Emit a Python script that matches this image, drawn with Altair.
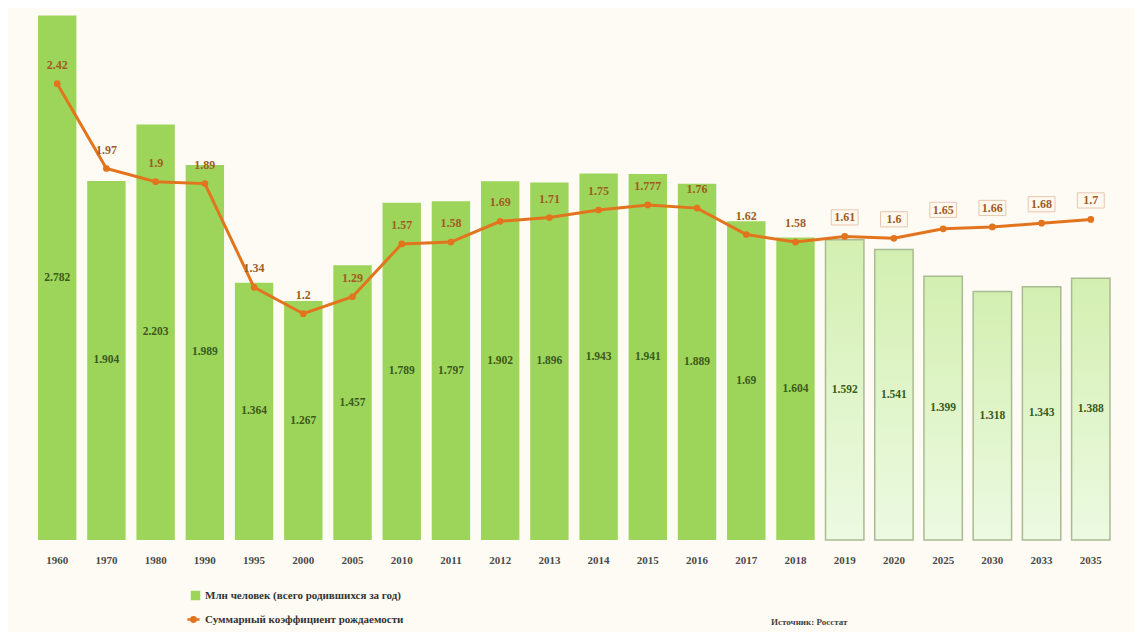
import altair as alt
import pandas as pd

years = ["1960", "1970", "1980", "1990", "1995", "2000", "2005", "2010", "2011",
         "2012", "2013", "2014", "2015", "2016", "2017", "2018", "2019", "2020",
         "2025", "2030", "2033", "2035"]
births = [2.782, 1.904, 2.203, 1.989, 1.364, 1.267, 1.457, 1.789, 1.797, 1.902,
          1.896, 1.943, 1.941, 1.889, 1.69, 1.604, 1.592, 1.541, 1.399, 1.318,
          1.343, 1.388]
tfr = [2.42, 1.97, 1.9, 1.89, 1.34, 1.2, 1.29, 1.57, 1.58, 1.69, 1.71, 1.75,
       1.777, 1.76, 1.62, 1.58, 1.61, 1.6, 1.65, 1.66, 1.68, 1.7]
forecast = [False] * 16 + [True] * 6

bar_name = "Млн человек (всего родившихся за год)"
line_name = "Суммарный коэффициент рождаемости"
source = "Источник: Росстат"

df = pd.DataFrame({"year": years, "births": births, "tfr": tfr, "forecast": forecast})
df["births_lbl"] = [f"{v:g}" for v in births]
df["tfr_lbl"] = [f"{v:g}" for v in tfr]
df["bar_series"] = bar_name
df["line_series"] = line_name

SERIF = "Liberation Serif"
ydom = alt.Scale(domain=[0, 2.8], nice=False, zero=True)
xenc = alt.X("year:N", sort=years, title=None,
             scale=alt.Scale(paddingInner=0.22, paddingOuter=0.0),
             axis=alt.Axis(domain=False, ticks=False, labelAngle=0, labelPadding=14,
                           labelFont=SERIF, labelFontWeight="bold", labelFontSize=11,
                           labelColor="#4a4a4a"))

base = alt.Chart(df)

bars_hist = base.transform_filter("!datum.forecast").mark_bar(color="#9dd45a").encode(
    x=xenc,
    y=alt.Y("births:Q", scale=ydom, axis=None),
    color=alt.Color("bar_series:N", title=None,
                    scale=alt.Scale(domain=[bar_name], range=["#9dd45a"]),
                    legend=alt.Legend(orient="none", legendX=152, legendY=578,
                                      symbolType="square", symbolSize=90,
                                      labelLimit=0,
                                      labelFont=SERIF, labelFontWeight="bold",
                                      labelFontSize=11, labelColor="#333333")),
)

grad = alt.Gradient(gradient="linear", x1=0, y1=0, x2=0, y2=1,
                    stops=[alt.GradientStop(color="#d3efb0", offset=0),
                           alt.GradientStop(color="#ecfae2", offset=1)])
bars_fc = base.transform_filter("datum.forecast").mark_bar(
    fill=grad, stroke="#a9bb92", strokeWidth=1.5).encode(
    x=xenc,
    y=alt.Y("births:Q", scale=ydom, axis=None),
)

bar_text = base.transform_calculate(mid="datum.births / 2").mark_text(
    font=SERIF, fontWeight="bold", fontSize=11.5, color="#3b5a1c").encode(
    x=xenc, y=alt.Y("mid:Q", scale=ydom), text="births_lbl:N")

line = base.mark_line(color="#e3741e", strokeWidth=3).encode(
    x=xenc, y=alt.Y("tfr:Q", scale=ydom),
    stroke=alt.Stroke("line_series:N", title=None,
                      scale=alt.Scale(domain=[line_name], range=["#e3741e"]),
                      legend=alt.Legend(orient="none", legendX=148, legendY=600,
                                        symbolType="M-1,0L1,0M-0.35,0A0.35,0.35 0 1,1 0.35,0A0.35,0.35 0 1,1 -0.35,0",
                                        symbolStrokeWidth=2.5, symbolSize=150,
                                        symbolFillColor="#e3741e", labelLimit=0,
                                        labelFont=SERIF, labelFontWeight="bold",
                                        labelFontSize=11, labelColor="#333333")),
)
pts = base.mark_circle(color="#e3741e", size=45, opacity=1).encode(
    x=xenc, y=alt.Y("tfr:Q", scale=ydom))

boxes = base.transform_filter("datum.forecast").mark_point(
    shape="M-1.5,-0.85H1.5V0.85H-1.5Z", filled=True, fill="#fff8ee",
    stroke="#e8c7b0", strokeWidth=1, size=320, yOffset=-19, opacity=1).encode(
    x=xenc, y=alt.Y("tfr:Q", scale=ydom))

line_text = base.mark_text(font=SERIF, fontWeight="bold", fontSize=12,
                           color="#a05c22", dy=-19).encode(
    x=xenc, y=alt.Y("tfr:Q", scale=ydom), text="tfr_lbl:N")

src = alt.Chart(pd.DataFrame({"t": [source]})).mark_text(
    font=SERIF, fontWeight="bold", fontSize=9, color="#444444", align="left").encode(
    x=alt.value(733), y=alt.value(610), text="t:N")

chart = alt.layer(bars_hist, bars_fc, bar_text, line, pts, boxes, line_text, src).resolve_scale(
    color="independent", stroke="independent"
).properties(
    width=1072, height=528,
    autosize=alt.AutoSizeParams(type="none"),
    padding={"left": 30, "top": 4, "right": 24, "bottom": 92},
    background="#fdfbf4",
).configure_view(stroke=None)

chart.save("out.html", embed_options={"renderer": "svg", "actions": False})
